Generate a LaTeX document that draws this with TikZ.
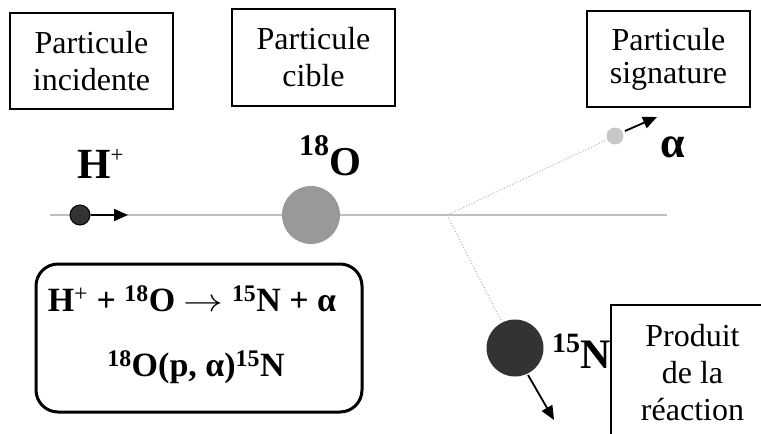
\documentclass[tikz,border=0pt]{standalone}
\usepackage{graphicx}
\usepackage{fontspec}
\setmainfont{Liberation Serif}
\usetikzlibrary{arrows.meta}
\begin{document}
\begin{tikzpicture}[x=1pt,y=-1pt,
  labelbox/.style={draw,line width=1.6pt,inner sep=0pt,align=center,font=\fontsize{32}{37}\selectfont},
  motion/.style={line width=1.8pt,-{Triangle[length=14pt,width=12pt]}},
  track/.style={draw=gray!60,dotted,line width=1pt},
  big/.style={inner sep=0pt,anchor=base west}]
\useasboundingbox (0,0) rectangle (761,434);
\clip (0,0) rectangle (761,434);
% beam line
\coordinate (beamL) at (50,215);
\coordinate (beamR) at (667,215);
\coordinate (split) at (447,215);
\draw[draw=black!25,line width=1.5pt] (beamL) -- (beamR);
% particles
\node[circle,draw=black,line width=1pt,fill=black!80,minimum size=20pt,inner sep=0pt] (H) at (80,215) {};
\node[circle,fill=black!40,minimum size=58pt,inner sep=0pt] (O) at (311,215) {};
\node[circle,fill=black!22,minimum size=17pt,inner sep=0pt] (A) at (615,136) {};
\node[circle,fill=black!80,minimum size=57pt,inner sep=0pt] (N) at (515,348) {};
\draw[track] (split) -- (A);
\draw[track] (split) -- (N);
% motion arrows
\coordinate (Hend) at (128,215);
\coordinate (Astart) at (625,131);
\coordinate (Aend) at (657,117);
\coordinate (Nstart) at (528,375);
\coordinate (Nend) at (554,420);
\draw[motion] (H.east) -- (Hend);
\draw[motion] (Astart) -- (Aend);
\draw[motion] (Nstart) -- (Nend);
% boxes
\node[labelbox,minimum width=163pt,minimum height=96pt] (b1) at (91.5,61) {Particule\\incidente};
\node[labelbox,minimum width=163pt,minimum height=97pt] (b2) at (313.5,57.5) {Particule\\cible};
\node[labelbox,minimum width=163pt,minimum height=96pt,font=\fontsize{32}{33}\selectfont] (b3) at (668.5,59) {Particule\\signature};
\node[labelbox,minimum width=163pt,minimum height=136pt] (b4) at (692.5,373) {Produit\\de la\\réaction};
% labels
\node[big] (lH) at (77,178) {\fontsize{43}{46}\selectfont\bfseries H\raisebox{16pt}{\mdseries\fontsize{23}{23}\selectfont +}};
\node[big] (lO) at (299,175) {\bfseries\raisebox{20pt}{\fontsize{30}{30}\selectfont 18}\fontsize{41}{44}\selectfont O};
\node[big] (lA) at (660,157) {\bfseries\fontsize{44}{48}\selectfont α};
\node[big] (lN) at (552,368) {\bfseries\raisebox{16pt}{\fontsize{28}{28}\selectfont 15}\fontsize{42}{46}\selectfont N};
% equation box
\draw[line width=3pt,rounded corners=22pt] (36,264) rectangle (362,412);
\node[inner sep=0pt,anchor=base,font=\bfseries\fontsize{34}{38}\selectfont] (eq1) at (192,311) {H\textsuperscript{\mdseries +} + \textsuperscript{18}O \scalebox{1.6}[1.3]{$\rightarrow$} \textsuperscript{15}N + α};
\node[inner sep=0pt,anchor=base,font=\bfseries\fontsize{34}{38}\selectfont] (eq2) at (196,376) {\textsuperscript{18}O(p, α)\textsuperscript{15}N};
\end{tikzpicture}
\end{document}
